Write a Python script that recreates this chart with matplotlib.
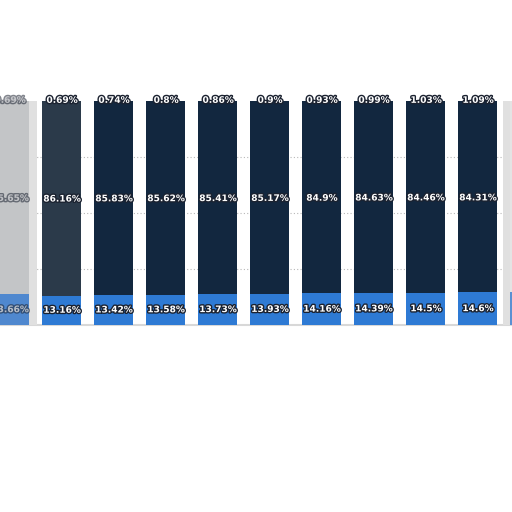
import numpy as np
import matplotlib
matplotlib.use("Agg")
import matplotlib.pyplot as plt
import matplotlib.patheffects as pe

# data (first bar is a faded ghost, last bar is cut off)
bottom_vals = [13.66, 13.16, 13.42, 13.58, 13.73, 13.93, 14.16, 14.39, 14.5, 14.6, 14.7]
middle_vals = [85.65, 86.16, 85.83, 85.62, 85.41, 85.17, 84.9, 84.63, 84.46, 84.31, 84.15]
top_vals = [0.69, 0.69, 0.74, 0.8, 0.86, 0.9, 0.93, 0.99, 1.03, 1.09, 1.15]

navy = "#12273f"
blue = "#2e7ad4"

x = np.arange(len(bottom_vals))
bottom_vals = np.array(bottom_vals)
middle_vals = np.array(middle_vals)
top_vals = np.array(top_vals)

fig = plt.figure(figsize=(5.12, 5.12), dpi=100)
ax = fig.add_axes([0, 0, 1, 1])

# faint dotted gridlines
for g in [25, 50, 75]:
    ax.axhline(g, color="#b8b8b8", lw=0.8, ls=(0, (1, 2)), zorder=0)
ax.axhline(0, color="#d8d8d8", lw=1.5, zorder=0)

mid_colors = [navy] * len(x)
bot_colors = [blue] * len(x)
mid_colors[0] = "#c3c5c7"
bot_colors[0] = "#4f88cf"
mid_colors[1] = "#2b3a4a"
mid_colors[-1] = "#e4e4e4"
bot_colors[-1] = "#5a90d2"

w = 0.75
# ghost blur around the faded bars
ax.bar([x[0], x[-1]], [100, 100], w + 0.3, color="#e0e0e0", zorder=1)
ax.bar(x, bottom_vals, w, color=bot_colors, zorder=2)
ax.bar(x, middle_vals, w, bottom=bottom_vals, color=mid_colors, zorder=2)
ax.bar(x, top_vals, w, bottom=bottom_vals + middle_vals, color=mid_colors, zorder=2)

stroke = [pe.withStroke(linewidth=2, foreground="#1b2230")]
# the cut-off bar at the right edge shows no labels
for i in range(len(x) - 1):
    a = 0.55 if i == 0 else 1.0
    kw = dict(ha="center", va="center", color="white", fontsize=6.5,
              fontweight="bold", path_effects=stroke, alpha=a, zorder=3)
    ax.text(x[i], bottom_vals[i] / 2, f"{bottom_vals[i]:g}%", **kw)
    ax.text(x[i], bottom_vals[i] + middle_vals[i] / 2, f"{middle_vals[i]:g}%", **kw)
    ax.text(x[i], 100.3, f"{top_vals[i]:g}%", **kw)

ax.set_xlim(-0.1923, 9.654)
ax.set_ylim(-83.5, 145.1)
ax.axis("off")

fig.savefig("out.png", dpi=100, facecolor="white")
